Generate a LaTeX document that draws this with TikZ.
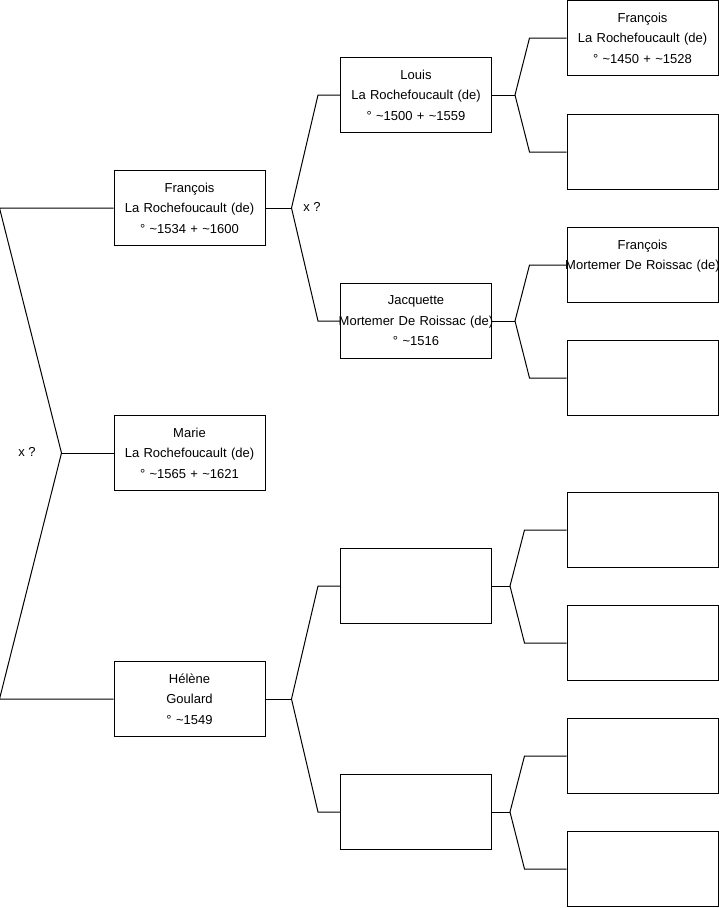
\documentclass[tikz,border=0pt]{standalone}
\usepackage{fontspec}
\setmainfont{Liberation Sans}
\usepackage{tikz}
\usetikzlibrary{positioning}

\newcommand{\ca}{\textasciitilde}
\newcommand{\longline}[1]{\makebox[\linewidth][c]{#1}}

\begin{document}
\begin{tikzpicture}[
    x=1pt, y=-1pt,
    person/.style={draw, line width=1pt, text width=151pt, minimum height=75pt, inner sep=0pt, align=center, font=\fontsize{13}{20.5}\selectfont},
    link/.style={line width=1pt},
    union/.style={font=\fontsize{13}{16}\selectfont, inner sep=0pt}
]
\useasboundingbox (0,0) rectangle (719,908);

% Génération 1
\node[person] (francois) at (189.5, 208) {François\\La Rochefoucault (de)\\° \ca1534 + \ca1600};
\node[person] (marie)    at (189.5, 453) {Marie\\La Rochefoucault (de)\\° \ca1565 + \ca1621};
\node[person] (helene)   at (189.5, 699) {Hélène\\Goulard\\° \ca1549};

% Génération 2
\node[person] (louis)     at (416, 95)  {Louis\\La Rochefoucault (de)\\° \ca1500 + \ca1559};
\node[person] (jacquette) at (416, 321) {Jacquette\\\longline{Mortemer De Roissac (de)}\\° \ca1516};
\node[person] (pereH)     at (416, 586) {};
\node[person] (mereH)     at (416, 812) {};

% Génération 3
\node[person] (francoisLR) at (642.5, 38)  {François\\La Rochefoucault (de)\\° \ca1450 + \ca1528};
\node[person] (mereL)      at (642.5, 152) {};
\node[person] (francoisMR) at (642.5, 265) {François\\\longline{Mortemer De Roissac (de)}\\\mbox{}};
\node[person] (mereJ)      at (642.5, 378) {};
\foreach \i/\y in {1/530, 2/643, 3/756, 4/869} {
    \node[person] (anc\i) at (642.5, \y) {};
}

% Unions
\node[union] (xm) at (27, 452) {x ?};
\node[union] (xf) at (312, 207) {x ?};

% Marie
\draw[link] (marie.west) -- ++(-52,0) coordinate (fm);
\draw[link] (francois.west) -- ([xshift=-114pt]francois.west) -- (fm)
    -- ([xshift=-114pt]helene.west) -- (helene.west);

% François
\draw[link] (francois.east) -- ++(26,0) coordinate (ff);
\draw[link] (louis.west) -- ([xshift=-22pt]louis.west) -- (ff)
    -- ([xshift=-22pt]jacquette.west) -- (jacquette.west);

% Hélène
\draw[link] (helene.east) -- ++(26,0) coordinate (fh);
\draw[link] (pereH.west) -- ([xshift=-22pt]pereH.west) -- (fh)
    -- ([xshift=-22pt]mereH.west) -- (mereH.west);

% Louis et Jacquette
\draw[link] (louis.east) -- ++(23,0) coordinate (fl);
\draw[link] (francoisLR.west) -- ([xshift=-37pt]francoisLR.west) -- (fl)
    -- ([xshift=-37pt]mereL.west) -- (mereL.west);
\draw[link] (jacquette.east) -- ++(23,0) coordinate (fj);
\draw[link] (francoisMR.west) -- ([xshift=-37pt]francoisMR.west) -- (fj)
    -- ([xshift=-37pt]mereJ.west) -- (mereJ.west);

% Parents de Hélène
\draw[link] (pereH.east) -- ++(18,0) coordinate (fp);
\draw[link] (anc1.west) -- ([xshift=-42pt]anc1.west) -- (fp)
    -- ([xshift=-42pt]anc2.west) -- (anc2.west);
\draw[link] (mereH.east) -- ++(18,0) coordinate (fq);
\draw[link] (anc3.west) -- ([xshift=-42pt]anc3.west) -- (fq)
    -- ([xshift=-42pt]anc4.west) -- (anc4.west);

\end{tikzpicture}
\end{document}
